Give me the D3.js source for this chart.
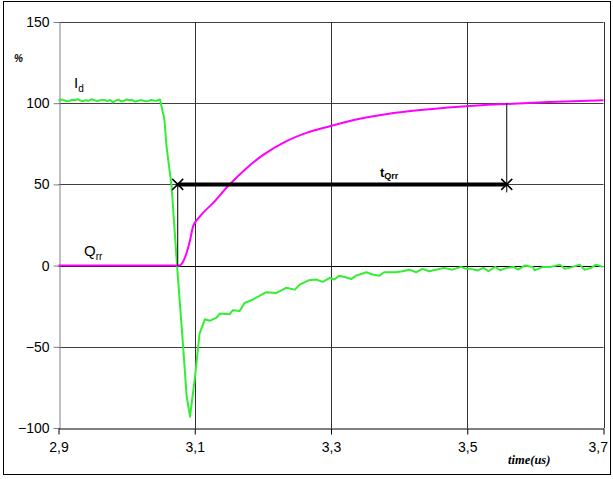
<!DOCTYPE html>
<html>
<head>
<meta charset="utf-8">
<script src="https://cdn.jsdelivr.net/npm/d3@7"></script>
<style>
  body { margin: 0; background: #fff; }
  svg { display: block; font-family: "Liberation Sans", Arial, sans-serif; }
</style>
</head>
<body>
<div id="chart"></div>
<script>
// Data
const xTicks = [2.9, 3.1, 3.3, 3.5, 3.7];
const yTicks = [-100, -50, 0, 50, 100, 150];

// I_d (green), time in us / value in %
const idTime = [2.900, 2.904, 2.908, 2.912, 2.916, 2.920, 2.924, 2.928, 2.932, 2.936,
  2.940, 2.944, 2.948, 2.952, 2.956, 2.960, 2.964, 2.968, 2.972, 2.976,
  2.980, 2.984, 2.988, 2.992, 2.996, 3.000, 3.004, 3.008, 3.012, 3.016,
  3.020, 3.024, 3.028, 3.032, 3.036, 3.040, 3.044, 3.049,
  3.0555, 3.0585, 3.066, 3.074, 3.083, 3.088, 3.093, 3.100, 3.107, 3.115, 3.122,
  3.132, 3.137, 3.151, 3.156, 3.166, 3.173, 3.185, 3.205, 3.220, 3.234,
  3.247, 3.254, 3.268, 3.278, 3.288, 3.298, 3.305, 3.312, 3.320, 3.330,
  3.337, 3.352, 3.361, 3.371, 3.378, 3.395, 3.405, 3.415, 3.425, 3.434,
  3.444, 3.454, 3.466, 3.478, 3.491, 3.498, 3.506, 3.515, 3.524, 3.531,
  3.541, 3.548, 3.558, 3.568, 3.575, 3.584, 3.596, 3.599, 3.611, 3.623,
  3.636, 3.643, 3.655, 3.665, 3.672, 3.682, 3.689, 3.699];
const idValue = [101.5, 102.3, 101.9, 101.2, 101.4, 102.1, 101.8, 102.5, 101.6, 101.3,
  101.8, 101.5, 102.4, 102.0, 101.3, 101.6, 102.2, 101.9, 101.4, 102.0,
  100.5, 101.7, 102.2, 101.1, 101.5, 102.3, 101.8, 102.1, 101.0, 101.4,
  101.9, 101.6, 101.2, 101.4, 102.0, 101.7, 101.5, 102.3,
  90, 73.5, 49, 0, -50, -80, -93, -70, -42, -33, -34,
  -32, -29.5, -30, -27.5, -28, -23, -21, -16.4, -16.8, -13.7,
  -14.8, -11.7, -9, -8.6, -10, -7.6, -8.6, -6.2, -7, -8.2,
  -6.2, -4.1, -5.5, -6.2, -4.1, -4.1, -3.5, -2.5, -4.1, -2,
  -3.5, -2.5, -1.4, -2.5, -0.8, -2, -2, -3, -1.4, -3.5,
  -0.8, -2.9, -1.4, -0.8, -2.5, 0, -0.8, -2.9, -0.8, -0.8,
  0.6, -2, -0.8, 0.6, -2.5, -1.4, 0.6, -0.8];

// Q_rr (magenta)
const qrrTime = [2.900, 3.000, 3.077, 3.083, 3.088, 3.093, 3.0975, 3.107, 3.127, 3.149,
  3.176, 3.200, 3.234, 3.264, 3.298, 3.332, 3.371, 3.420, 3.493, 3.557, 3.620, 3.700];
const qrrValue = [0, 0, 0, 2.5, 7.8, 15.5, 24, 30, 38.6, 49,
  60, 68, 76.5, 81.7, 85.8, 89.5, 92.6, 95.3, 98, 99.5, 100.7, 101.8];

// t_Qrr marker
const tqStart = 3.075;
const tqEnd = 3.558;
const tqLevel = 50;

// Dimensions
const W = 613, H = 479;
const plot = { left: 58.5, right: 603.5, top: 22, bottom: 428 };

const x = d3.scaleLinear().domain([2.9, 3.7]).range([plot.left, plot.right]);
const y = d3.scaleLinear().domain([-100, 150]).range([plot.bottom, plot.top]);

const svg = d3.select("#chart").append("svg")
  .attr("width", W).attr("height", H);

// outer frame
svg.append("rect")
  .attr("x", 3.5).attr("y", 1.5).attr("width", 607).attr("height", 473)
  .attr("fill", "none").attr("stroke", "#000").attr("stroke-width", 1);

// horizontal grid
svg.append("g")
  .selectAll("line")
  .data(yTicks.filter(d => d !== -100))
  .join("line")
  .attr("x1", plot.left).attr("x2", plot.right)
  .attr("y1", d => Math.round(y(d)) + 0.5).attr("y2", d => Math.round(y(d)) + 0.5)
  .attr("stroke", d => d === 0 ? "#000" : "#404040")
  .attr("stroke-width", 1);

// vertical grid
svg.append("g")
  .selectAll("line")
  .data(xTicks.slice(1))
  .join("line")
  .attr("x1", d => Math.round(x(d)) + 0.5).attr("x2", d => Math.round(x(d)) + 0.5)
  .attr("y1", plot.top).attr("y2", plot.bottom)
  .attr("stroke", "#303030")
  .attr("stroke-width", 1);

// Y axis
const yAxis = svg.append("g")
  .attr("transform", `translate(${Math.round(plot.left) + 0.5},0)`)
  .call(d3.axisLeft(y).tickValues(yTicks).tickSize(6).tickPadding(4).tickSizeOuter(0)
    .tickFormat(d3.format("d")));
yAxis.select(".domain").attr("stroke", "#808080");
yAxis.selectAll(".tick line").attr("stroke", "#808080");
yAxis.selectAll("text").attr("font-size", 14).attr("fill", "#000")
  .attr("font-family", "'Liberation Sans', Arial, sans-serif");

// X axis
const xAxis = svg.append("g")
  .attr("transform", `translate(0,${Math.round(plot.bottom) + 0.5})`)
  .call(d3.axisBottom(x).tickValues(xTicks).tickSize(6).tickPadding(8).tickSizeOuter(0)
    .tickFormat(d => d3.format(".1f")(d).replace(".", ",")));
xAxis.select(".domain").attr("stroke", "#000");
xAxis.selectAll("text").attr("font-size", 14).attr("fill", "#000")
  .attr("font-family", "'Liberation Sans', Arial, sans-serif");
// keep the last label inside the frame
xAxis.selectAll(".tick").filter(d => d === 3.7).select("text")
  .attr("text-anchor", "end").attr("dx", 4);

// Series
const line = d3.line().x(d => x(d[0])).y(d => y(d[1]));

svg.append("path")
  .datum(idTime.map((t, i) => [t, idValue[i]]))
  .attr("d", line)
  .attr("fill", "none")
  .attr("stroke", "#33ee33")
  .attr("stroke-width", 2)
  .attr("stroke-linejoin", "round");

svg.append("path")
  .datum(qrrTime.map((t, i) => [t, qrrValue[i]]))
  .attr("d", d3.line().curve(d3.curveMonotoneX).x(d => x(d[0])).y(d => y(d[1])))
  .attr("fill", "none")
  .attr("stroke", "#ff00ff")
  .attr("stroke-width", 2);

// t_Qrr annotation
const ann = svg.append("g").attr("stroke", "#000");
ann.append("line")
  .attr("x1", x(tqStart)).attr("x2", x(tqStart))
  .attr("y1", y(0)).attr("y2", y(tqLevel))
  .attr("stroke-width", 1);
ann.append("line")
  .attr("x1", x(tqEnd)).attr("x2", x(tqEnd))
  .attr("y1", y(tqLevel) + 8).attr("y2", y(100))
  .attr("stroke-width", 1);
ann.append("line")
  .attr("x1", x(tqStart)).attr("x2", x(tqEnd))
  .attr("y1", y(tqLevel)).attr("y2", y(tqLevel))
  .attr("stroke-width", 4);
[tqStart, tqEnd].forEach(t => {
  const cx = x(t), cy = y(tqLevel), s = 5.5;
  ann.append("path")
    .attr("d", `M${cx - s},${cy - s}L${cx + s},${cy + s}M${cx - s},${cy + s}L${cx + s},${cy - s}`)
    .attr("stroke-width", 1.5);
});

// Labels
const tq = svg.append("text")
  .attr("x", 380).attr("y", 177)
  .attr("font-size", 13).attr("font-weight", "bold");
tq.append("tspan").text("t");
tq.append("tspan").attr("font-size", 9).attr("dy", 2).text("Qrr");

const idLab = svg.append("text").attr("x", 74).attr("y", 88).attr("font-size", 15);
idLab.append("tspan").text("I");
idLab.append("tspan").attr("font-size", 10).attr("dy", 4).text("d");

const qLab = svg.append("text").attr("x", 84).attr("y", 256).attr("font-size", 15);
qLab.append("tspan").text("Q");
qLab.append("tspan").attr("font-size", 10).attr("dy", 4).text("rr");

svg.append("text")
  .attr("x", 14).attr("y", 62)
  .attr("font-size", 10).attr("font-weight", "bold").attr("font-style", "italic")
  .text("%");

svg.append("text")
  .attr("x", 508).attr("y", 464)
  .attr("font-family", "'Liberation Serif', 'Times New Roman', serif")
  .attr("font-size", 12.5).attr("font-weight", "bold").attr("font-style", "italic")
  .text("time(us)");
</script>
</body>
</html>
